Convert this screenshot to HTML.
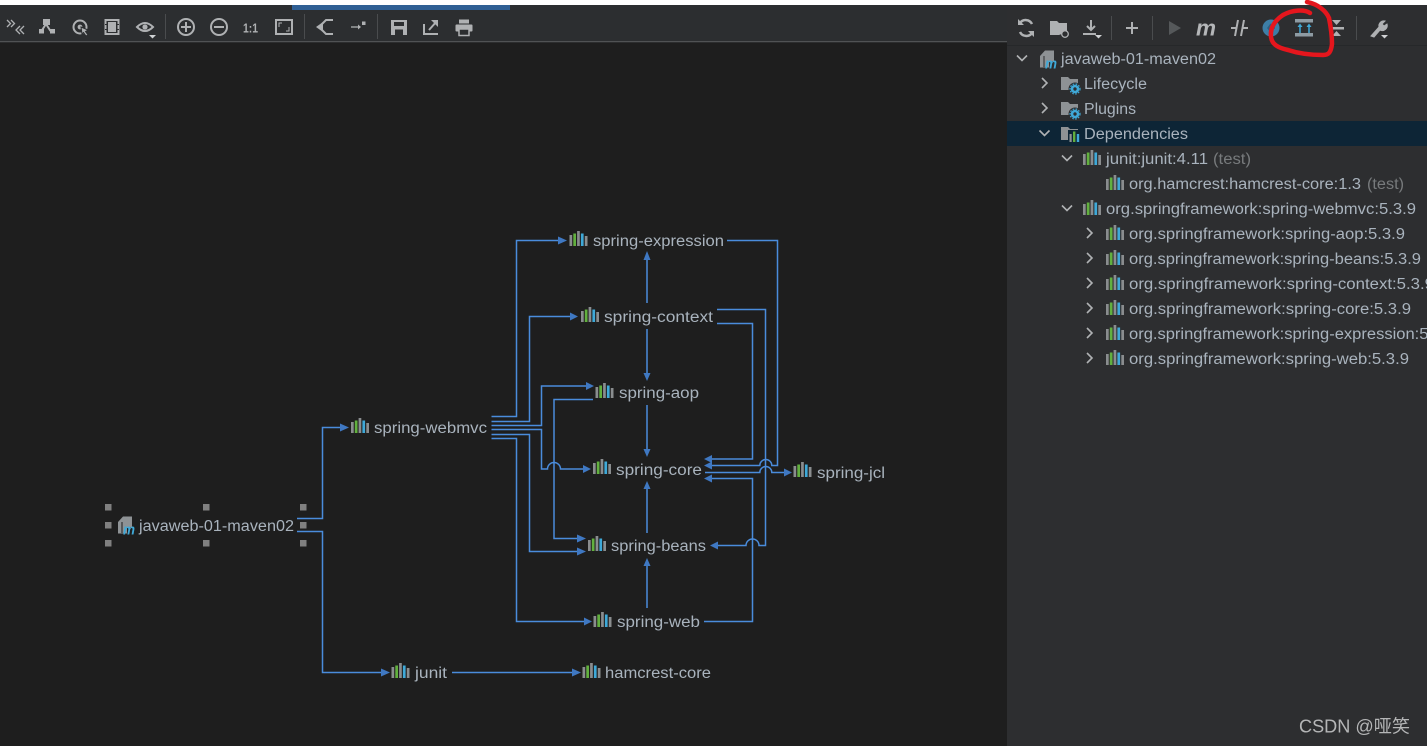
<!DOCTYPE html>
<html><head><meta charset="utf-8"><style>
html,body{margin:0;padding:0;background:#1e1e1e;width:1427px;height:746px;overflow:hidden}
svg{display:block}
text{font-family:"Liberation Sans","Noto Sans CJK SC",sans-serif;font-size:15.5px;fill:#a9b3bd;transform:translateY(.5px)}
.c{fill:none;stroke:#4a8cdc;stroke-width:1.5}
.a{fill:#3f78c2}
.ic{fill:none;stroke:#afb1b3;stroke-width:2}
.f{fill:#afb1b3}
.sep{stroke:#4a4c4e;stroke-width:1}
.chev{fill:none;stroke:#b0b2b4;stroke-width:1.6}
</style></head><body>
<svg width="1427" height="746" viewBox="0 0 1427 746" xmlns="http://www.w3.org/2000/svg">
<defs>
<g id="lib">
<rect x="0" y="4" width="2.7" height="11" fill="#8a8d8f"/>
<rect x="3.8" y="2.500" width="2.7" height="12.500" fill="#62b03f"/>
<rect x="7.6" y="0" width="2.7" height="15" fill="#8a8d8f"/>
<rect x="11.4" y="2.500" width="2.7" height="12.500" fill="#3fa9d8"/>
<rect x="15.300" y="5" width="2.7" height="10" fill="#8a8d8f"/>
</g>
<path id="folder" d="M0 2h7l2 2h8v11H0z" fill="#8e9295"/>
<g id="gear"><circle cx="0" cy="0" r="6.500" fill="#2d2e30"/><circle cx="0" cy="0" r="3" fill="none" stroke="#3fa9d8" stroke-width="2.600"/><circle cx="0" cy="0" r="5" fill="none" stroke="#3fa9d8" stroke-width="1.200" stroke-dasharray="1.6 1.4"/></g>
<path id="ch" d="M-5-2.500 L0 2.500 L5-2.500" class="chev"/>
<path id="cr" d="M-2.500-5 L2.500 0 L-2.500 5" class="chev"/>
</defs>

<rect width="1427" height="746" fill="#1e1e1e"/>
<!-- top -->
<rect x="0" y="0" width="1427" height="5" fill="#ffffff"/>
<rect x="0" y="5" width="1007" height="36" fill="#2c2e30"/>
<rect x="292" y="5" width="218" height="5" fill="#2f5f94"/>
<rect x="0" y="41" width="1007" height="1.3" fill="#505254"/>
<!-- right panel -->
<rect x="1007" y="5" width="420" height="741" fill="#2d2e30"/>
<rect x="1007" y="45" width="420" height="1" fill="#26282a"/>
<rect x="1007" y="121" width="420" height="25" fill="#0d2536"/>

<!-- left toolbar -->
<g>
<path d="M7 20l3.500 3.500-3.500 3.500M11 20l3.500 3.500-3.500 3.500" fill="none" stroke="#afb1b3" stroke-width="1.300"/>
<path d="M20 26l-4 4 4 4M24 26l-4 4 4 4" fill="none" stroke="#afb1b3" stroke-width="1.300"/>
<path d="M46 24L41.500 31M46 24l4.500 7" class="ic" stroke-width="3"/><rect x="43" y="19" width="7" height="6" class="f"/><rect x="39" y="29" width="5" height="4.500" class="f"/><rect x="50" y="29" width="5" height="4.500" class="f"/>
<circle cx="80" cy="27" r="6.500" class="ic"/><circle cx="80" cy="27" r="2.4" class="f"/><path d="M81 27l7 3-2.500 1.500L88 35l-2 1-2.500-3.500L82 34z" class="f" stroke="#2c2e30" stroke-width="1"/>
<rect x="105.500" y="20" width="13" height="14" class="ic"/><rect x="108" y="22" width="8" height="10" class="f"/><rect x="105" y="24" width="3" height="1" fill="#2c2e30"/><rect x="105" y="29" width="3" height="1" fill="#2c2e30"/><rect x="116" y="24" width="3" height="1" fill="#2c2e30"/><rect x="116" y="29" width="3" height="1" fill="#2c2e30"/>
<path d="M137 27q8-8 16 0q-8 8-16 0z" class="ic" stroke-width="2.200"/><circle cx="145" cy="27" r="2.600" class="f"/><path d="M149 35h7l-3.500 3.500z" fill="#d0d2d4"/>
<line x1="165.500" y1="14" x2="165.500" y2="39" class="sep"/>
<circle cx="186" cy="27" r="8" class="ic" stroke-width="1.600"/><path d="M181 27h10M186 22v10" class="ic"/>
<circle cx="219" cy="27" r="8" class="ic" stroke-width="1.600"/><path d="M214 27h10" class="ic"/>
<text x="243" y="32" style="font-size:13px;font-weight:700;fill:#afb1b3" textLength="15" lengthAdjust="spacingAndGlyphs">1:1</text>
<rect x="276" y="20" width="16" height="14" class="ic" stroke-width="1.500"/><path d="M279 27v-4h3M289 27v4h-3" fill="none" stroke="#afb1b3" stroke-width="1"/>
<line x1="304.500" y1="14" x2="304.500" y2="39" class="sep"/>
<path d="M316 27l7-5v10z" class="f"/><path d="M322 24l4-4h7M322 30l4 4h7" class="ic" stroke-width="2.500"/>
<path d="M351 27h9" stroke="#afb1b3" stroke-width="1.300"/><path d="M358 24.500l3 2.500-3 2.500z" class="f"/><rect x="362" y="21.500" width="3.500" height="3.500" class="f"/>
<line x1="377.500" y1="14" x2="377.500" y2="39" class="sep"/>
<path d="M391 20h16v15h-16z" class="f"/><rect x="394" y="22" width="10" height="4" fill="#2c2e30"/><rect x="395" y="29.500" width="8" height="5.500" fill="#2c2e30"/>
<path d="M424 24v10h14" class="ic"/><path d="M429 30l8-9" class="ic"/><path d="M431 20h7v7z" class="f"/>
<rect x="459" y="19.500" width="10" height="4" class="f"/><rect x="455.500" y="24.500" width="17" height="7" rx="1" class="f"/><rect x="459" y="29" width="10" height="6.500" fill="#2c2e30" stroke="#afb1b3" stroke-width="1.500"/>
</g>

<!-- right toolbar -->
<g>
<path d="M1032 24a7 7 0 0 0-12-1M1020 32a7 7 0 0 0 12 1" fill="none" stroke="#afb1b3" stroke-width="2.500"/><path d="M1018 19v6h6zM1034 37v-6h-6z" class="f"/>
<path d="M1050 21h7l2 2h8v9l-8 3h-9z" class="f"/><circle cx="1065" cy="34" r="3.300" fill="#2d2e30" stroke="#afb1b3" stroke-width="1.300"/>
<path d="M1091 20v10M1087 26l4 4 4-4" class="ic" stroke-width="2.400"/><path d="M1083 34h13" class="ic"/><path d="M1095 35h7l-3.500 3.500z" fill="#d0d2d4"/>
<line x1="1111.500" y1="16" x2="1111.500" y2="40" class="sep"/>
<path d="M1126 28h12M1132 22v12" class="ic" stroke-width="2.500"/>
<line x1="1152.500" y1="16" x2="1152.500" y2="40" class="sep"/>
<path d="M1169 21l12 7-12 7z" fill="#55585a"/>
<text x="1196" y="35" style="font-size:22px;font-weight:700;font-style:italic;fill:#b4b6b8" textLength="20" lengthAdjust="spacingAndGlyphs">m</text>
<path d="M1231 28h6M1242 28h6M1235 36l3-16M1241 36l3-16" class="ic" stroke-width="2.500"/>
<circle cx="1271" cy="28" r="8.500" fill="#3d7ea6"/><path d="M1268 28h7M1271 24l-3 4 3 4" fill="none" stroke="#2d5f80" stroke-width="1.500"/>
<rect x="1295" y="19" width="18" height="3.500" fill="#8e9ba3"/><rect x="1295" y="33" width="18" height="3.500" fill="#8e9ba3"/>
<path d="M1300 33v-8M1309 33v-8" stroke="#3fa9d8" stroke-width="1.500"/><path d="M1297.500 27l2.500-3.500 2.500 3.500zM1306.500 27l2.500-3.500 2.500 3.500z" fill="#3fa9d8"/>
<rect x="1329" y="27" width="15" height="2.500" class="f"/><path d="M1332 20h9l-4.500 5zM1332 36h9l-4.500-5z" class="f"/>
<line x1="1356.500" y1="16" x2="1356.500" y2="40" class="sep"/>
<path d="M1371 36l8-9a5 5 0 0 1 6-6l-3 3 2 2 3-2a5 5 0 0 1-7 6l-6 7z" class="f" stroke="#afb1b3" stroke-width="1"/><path d="M1381 35h7l-3.500 3.500z" fill="#d0d2d4"/>
</g>
<path d="M1307 2C1318 4 1326 11 1329 18C1331 28 1332 36 1332 44C1331 52 1329 55 1323 55C1310 55 1297 53 1288 50C1279 48 1272 45 1271 37C1270 28 1274 21 1283 15C1292 10 1304 9 1310 13" fill="none" stroke="#e5161d" stroke-width="4.500" stroke-linecap="round"/>

<!-- connectors -->
<g class="c">
<path d="M297 518.500H322.500V427.500H340"/>
<path d="M297 531.500H322.500V672.500H382"/>
<path d="M452 672.500H574"/>
<path d="M491.500 416.500H516.500V240.500H558"/>
<path d="M491.500 421.500H529.500V316.500H570"/>
<path d="M491.500 425.500H541.500V386H586"/>
<path d="M491.500 429.500H541.500V469H547.500A6.500 6.500 0 0 1 560.500 469H583"/>
<path d="M491.500 434.500H529.500V551.500H577"/>
<path d="M491.500 438.500H516.500V621.500H585"/>
<path d="M593 399.500H554V538.500H577"/>
<path d="M647 303V260"/>
<path d="M647 329V374"/>
<path d="M647 405V450"/>
<path d="M647 533V488"/>
<path d="M647 608V565"/>
<path d="M727 240.500H777.500V465.500H771.800A6 6 0 0 0 759.800 465.500H712"/>
<path d="M717 309.500H765.500V545.500H759A6.500 6.500 0 0 0 746 545.500H718"/>
<path d="M717 323.500H752.500V459H712"/>
<path d="M705 472.500H759.800A6 6 0 0 1 771.800 472.500H785"/>
<path d="M704 621.500H752.500V478.500H712"/>
</g>
<!-- arrowheads -->
<g class="a">
<path d="M340 423.500l9 4-9 4z"/><path d="M381 668.500l9 4-9 4z"/><path d="M572 668.500l9 4-9 4z"/>
<path d="M558 236.500l9 4-9 4z"/><path d="M570 312.500l8 4-8 4z"/><path d="M586 382l8 4-8 4z"/>
<path d="M583 465l8 4-8 4z"/><path d="M577 547.500l9 4-9 4z"/><path d="M577 534.500l9 4-9 4z"/><path d="M584 617.500l8 4-8 4z"/>
<path d="M643.500 260l3.500-9 3.500 9z"/><path d="M643.500 373l3.500 8 3.500-8z"/><path d="M643.500 449l3.500 8 3.500-8z"/>
<path d="M643.500 489l3.500-8 3.500 8z"/><path d="M643.500 566l3.500-8 3.500 8z"/>
<path d="M712 455l-8 4 8 4z"/><path d="M712 461.500l-8 4 8 4z"/><path d="M712 474.500l-8 4 8 4z"/><path d="M718 541.500l-8 4 8 4z"/>
<path d="M784 468.500l8 4-8 4z"/>
</g>

<!-- graph nodes -->
<g>
<use href="#lib" x="569.500" y="231"/><text x="593" y="245.500" textLength="131" lengthAdjust="spacingAndGlyphs">spring-expression</text>
<use href="#lib" x="581" y="307"/><text x="604" y="321.500" textLength="109" lengthAdjust="spacingAndGlyphs">spring-context</text>
<use href="#lib" x="595.500" y="383"/><text x="619" y="397.500" textLength="80" lengthAdjust="spacingAndGlyphs">spring-aop</text>
<use href="#lib" x="593" y="459"/><text x="616" y="474.500" textLength="86" lengthAdjust="spacingAndGlyphs">spring-core</text>
<use href="#lib" x="793.500" y="462"/><text x="817" y="477.500" textLength="68" lengthAdjust="spacingAndGlyphs">spring-jcl</text>
<use href="#lib" x="588" y="536"/><text x="611" y="550.500" textLength="95" lengthAdjust="spacingAndGlyphs">spring-beans</text>
<use href="#lib" x="593.500" y="612"/><text x="617" y="626.500" textLength="83" lengthAdjust="spacingAndGlyphs">spring-web</text>
<use href="#lib" x="351" y="418"/><text x="374" y="432.500" textLength="113" lengthAdjust="spacingAndGlyphs">spring-webmvc</text>
<use href="#lib" x="391.500" y="663"/><text x="415" y="677.500" textLength="32" lengthAdjust="spacingAndGlyphs">junit</text>
<use href="#lib" x="582.500" y="663"/><text x="605" y="677.500" textLength="106" lengthAdjust="spacingAndGlyphs">hamcrest-core</text>
<path d="M118 522l5-5.500h9v11h-5v6h-9z" fill="#8e9295"/><path d="M122 522v11" stroke="#1e1e1e" stroke-width="1"/>
<text x="123" y="534" style="font-size:15px;font-weight:700;font-style:italic;fill:#3fa9d8" textLength="12" lengthAdjust="spacingAndGlyphs">m</text>
<text x="139" y="530.500" textLength="155" lengthAdjust="spacingAndGlyphs">javaweb-01-maven02</text>
</g>
<!-- selection handles -->
<g fill="#808080">
<rect x="105" y="504" width="6.500" height="6.500"/><rect x="203" y="504" width="6.500" height="6.500"/><rect x="300" y="504" width="6.500" height="6.500"/>
<rect x="105" y="522" width="6.500" height="6.500"/><rect x="300" y="522" width="6.500" height="6.500"/>
<rect x="105" y="540" width="6.500" height="6.500"/><rect x="203" y="540" width="6.500" height="6.500"/><rect x="300" y="540" width="6.500" height="6.500"/>
</g>

<!-- tree -->
<g>
<use href="#ch" x="1022" y="58"/>
<path d="M1040 56l5-5.500h9v11h-5v6h-9z" fill="#8e9295"/><path d="M1044 56v11" stroke="#2d2e30" stroke-width="1"/>
<text x="1045" y="68" style="font-size:15px;font-weight:700;font-style:italic;fill:#3fa9d8" textLength="12" lengthAdjust="spacingAndGlyphs">m</text>
<text x="1061" y="63.500" textLength="155" lengthAdjust="spacingAndGlyphs">javaweb-01-maven02</text>

<use href="#cr" x="1044.500" y="83"/><use href="#folder" x="1061" y="75"/><use href="#gear" x="1075" y="89"/>
<text x="1084" y="88.500" textLength="63" lengthAdjust="spacingAndGlyphs">Lifecycle</text>
<use href="#cr" x="1044.500" y="108"/><use href="#folder" x="1061" y="100"/><use href="#gear" x="1075" y="114"/>
<text x="1084" y="113.500" textLength="52" lengthAdjust="spacingAndGlyphs">Plugins</text>
<use href="#ch" x="1044.500" y="133"/><use href="#folder" x="1061" y="125"/>
<rect x="1068" y="130" width="12" height="13" fill="#0d2536"/><rect x="1069.500" y="134" width="2.200" height="8" fill="#8e9295"/><rect x="1073" y="131.500" width="2.400" height="10.500" fill="#62b03f"/><rect x="1076.800" y="134" width="2.400" height="8" fill="#3fa9d8"/>
<text x="1084" y="138.500" textLength="104" lengthAdjust="spacingAndGlyphs">Dependencies</text>

<use href="#ch" x="1067" y="158"/><use href="#lib" x="1083" y="150"/>
<text x="1106" y="163.500" textLength="102" lengthAdjust="spacingAndGlyphs">junit:junit:4.11</text>
<text x="1213" y="163.500" textLength="38" lengthAdjust="spacingAndGlyphs" style="fill:#777a7c">(test)</text>
<use href="#lib" x="1106" y="175"/>
<text x="1129" y="188.500" textLength="232" lengthAdjust="spacingAndGlyphs">org.hamcrest:hamcrest-core:1.3</text>
<text x="1367" y="188.500" textLength="37" lengthAdjust="spacingAndGlyphs" style="fill:#777a7c">(test)</text>

<use href="#ch" x="1067" y="208"/><use href="#lib" x="1083" y="200"/>
<text x="1106" y="213.500" textLength="310" lengthAdjust="spacingAndGlyphs">org.springframework:spring-webmvc:5.3.9</text>
<use href="#cr" x="1089.500" y="233"/><use href="#lib" x="1106" y="225"/>
<text x="1129" y="238.500" textLength="276" lengthAdjust="spacingAndGlyphs">org.springframework:spring-aop:5.3.9</text>
<use href="#cr" x="1089.500" y="258"/><use href="#lib" x="1106" y="250"/>
<text x="1129" y="263.500" textLength="292" lengthAdjust="spacingAndGlyphs">org.springframework:spring-beans:5.3.9</text>
<use href="#cr" x="1089.500" y="283"/><use href="#lib" x="1106" y="275"/>
<text x="1129" y="288.500" textLength="305" lengthAdjust="spacingAndGlyphs">org.springframework:spring-context:5.3.9</text>
<use href="#cr" x="1089.500" y="308"/><use href="#lib" x="1106" y="300"/>
<text x="1129" y="313.500" textLength="282" lengthAdjust="spacingAndGlyphs">org.springframework:spring-core:5.3.9</text>
<use href="#cr" x="1089.500" y="333"/><use href="#lib" x="1106" y="325"/>
<text x="1129" y="338.500" textLength="327" lengthAdjust="spacingAndGlyphs">org.springframework:spring-expression:5.3.9</text>
<use href="#cr" x="1089.500" y="358"/><use href="#lib" x="1106" y="350"/>
<text x="1129" y="363.500" textLength="280" lengthAdjust="spacingAndGlyphs">org.springframework:spring-web:5.3.9</text>
</g>
<text x="1299" y="732" style="font-size:18px;fill:#b5b6b7" textLength="111" lengthAdjust="spacingAndGlyphs">CSDN @哑笑</text>
</svg>
</body></html>
